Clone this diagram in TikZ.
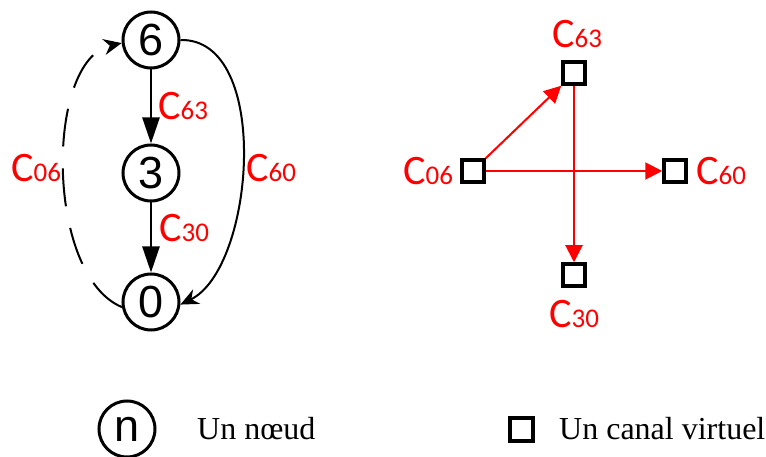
\documentclass[tikz,border=0pt]{standalone}
\usepackage{fontspec}
\setmainfont{Liberation Serif}
\newfontfamily\lblfont{Carlito}
\newfontfamily\numfont{Liberation Sans}
\usetikzlibrary{arrows.meta}
\newcommand{\clab}[2]{{\lblfont\fontsize{42}{42}\selectfont #1}{\lblfont\fontsize{27}{27}\selectfont #2}}
\begin{document}
\begin{tikzpicture}[x=1pt,y=-1pt,
  vnode/.style={circle,draw,line width=3pt,minimum size=56pt,inner sep=0pt,font=\numfont\fontsize{45}{45}\selectfont},
  vc/.style={rectangle,draw,line width=3.5pt,minimum size=22pt,inner sep=0pt},
  clabel/.style={text=red,inner sep=0pt,anchor=base west},
  bigarrow/.style={line width=2.5pt,-{Triangle[length=26pt,width=17pt]}},
  curvearrow/.style={line width=2pt,-{Stealth[length=18pt,width=16pt]}},
  redarrow/.style={red,line width=2pt,-{Triangle[length=17pt,width=17pt]}},
  legtext/.style={inner sep=0pt,anchor=base west,font=\fontsize{32}{32}\selectfont}]
\useasboundingbox (0,0) rectangle (766,457);
% left graph
\node[vnode] (n6) at (151,40) {6};
\node[vnode] (n3) at (151,173) {3};
\node[vnode] (n0) at (151,302) {0};
\draw[bigarrow] (n6) -- (n3);
\draw[bigarrow] (n3) -- (n0);
\draw[curvearrow] (n6.east) .. controls (272,38) and (255,268) .. (n0.-5);
\draw[curvearrow,dash pattern=on 38pt off 22pt] (n0.190) .. controls (45,275) and (45,60) .. (n6.186);
\node[clabel] (l63) at (158,120) {\clab{C}{63}};
\node[clabel] (l30) at (159,242) {\clab{C}{30}};
\node[clabel] (l06) at (11,182) {\clab{C}{06}};
\node[clabel] (l60) at (246,182) {\clab{C}{60}};
% right graph
\node[vc] (s63) at (574,73) {};
\node[vc] (s06) at (473,171) {};
\node[vc] (s60) at (675,171) {};
\node[vc] (s30) at (574,275) {};
\draw[redarrow] (s06.north east) -- (s63.south west);
\draw[redarrow] (s06.east) -- (s60.west);
\draw[redarrow] (s63.south) -- (s30.north);
\node[clabel] (r63) at (552,48) {\clab{C}{63}};
\node[clabel] (r06) at (403,185) {\clab{C}{06}};
\node[clabel] (r60) at (696,185) {\clab{C}{60}};
\node[clabel] (r30) at (549,327) {\clab{C}{30}};
% legend
\node[vnode] (ln) at (127,429) {n};
\node[legtext] (lt1) at (197,439) {Un nœud};
\node[vc,line width=4pt,minimum size=23pt] (ls) at (521.5,429) {};
\node[legtext] (lt2) at (559,439) {Un canal virtuel};
\end{tikzpicture}
\end{document}
